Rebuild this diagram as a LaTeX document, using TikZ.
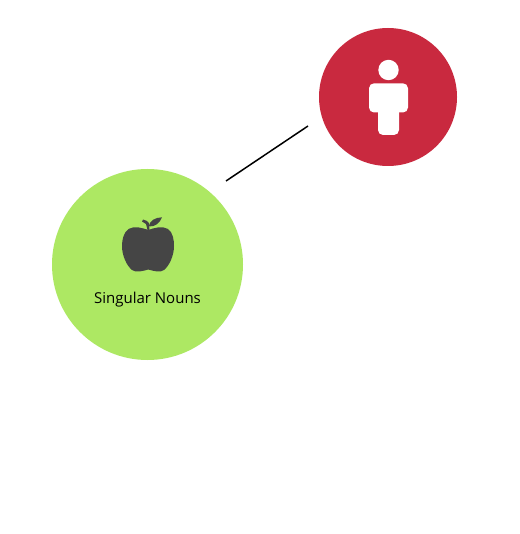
\documentclass[tikz,border=0pt]{standalone}
\usepackage{fontspec}
\setmainfont{Open Sans}
\definecolor{redc}{HTML}{C9293F}
\definecolor{greenc}{HTML}{ADE863}
\definecolor{applec}{HTML}{454545}
\tikzset{
  disc/.style={circle,draw=none,inner sep=0pt,outer sep=0pt,minimum size=#1},
  label text/.style={font=\fontsize{15pt}{18pt}\selectfont,text=black,inner sep=0pt},
  link/.style={draw=black,line width=1.5pt}
}
\begin{document}
\begin{tikzpicture}[x=1pt,y=-1pt]
\useasboundingbox (0,0) rectangle (519,534);
\fill[white] (0,0) rectangle (519,534);
\node[disc=138pt,fill=redc] (person) at (388,97) {};
\node[disc=191pt,fill=greenc] (nouns) at (147.5,264.5) {};
% person icon
\fill[white] (388.5,70) circle (10.2);
\fill[white,rounded corners=5pt] (369,83.3) rectangle (408,112.5);
\fill[white,rounded corners=5pt] (378,100) rectangle (399,135);
% apple icon
\fill[applec] (148.3,230)
  .. controls (143,228) and (134,225.5) .. (128.5,229)
  .. controls (123.5,232.5) and (122,240) .. (122,246)
  .. controls (122,256) and (127,266) .. (132,270)
  .. controls (136,273) and (143,271) .. (148.3,269.5)
  .. controls (154,271) and (160,273) .. (164,270)
  .. controls (169,266) and (174,256) .. (174,246)
  .. controls (174,240) and (173,232.5) .. (168,229)
  .. controls (162.5,225.5) and (153.5,228) .. (148.3,230) -- cycle;
\fill[applec] (147.5,230) -- (149.5,230) -- (148.8,223) .. controls (148,221.5) and (146,220) .. (143,219.5) -- (142,221.5) -- (146,224) -- cycle;
\fill[applec] (148.5,226.5) .. controls (150,220.5) and (155,217.5) .. (162,217.3)
  .. controls (160,223) and (155,227) .. (148.5,226.5) -- cycle;
\node[label text,anchor=base] (caption) at (147.5,303.5) {Singular Nouns};
\coordinate (linkA) at (226,181);
\coordinate (linkB) at (308,126);
\draw[link] (linkA) -- (linkB);
\end{tikzpicture}
\end{document}
